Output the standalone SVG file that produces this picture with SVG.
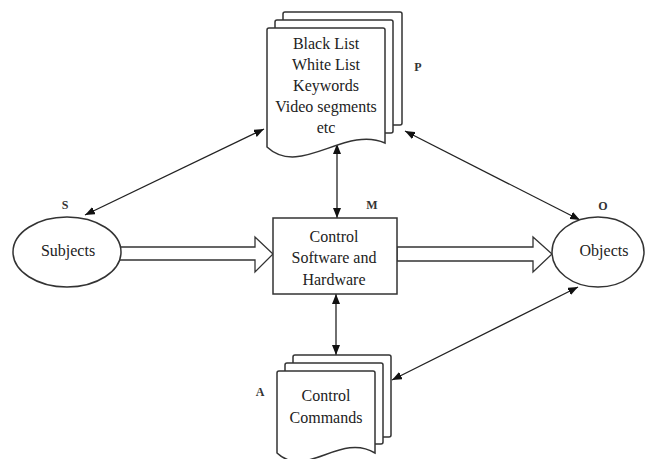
<svg xmlns="http://www.w3.org/2000/svg" width="652" height="459" viewBox="0 0 652 459">
<defs>
<marker id="ah" markerUnits="userSpaceOnUse" markerWidth="11" markerHeight="8" refX="10" refY="4" orient="auto-start-reverse">
<path d="M0,0 L10,4 L0,8 z" fill="#111"/>
</marker>
<style>
.sh{stroke:#333;stroke-width:1.5;fill:#fff}
.con{stroke:#222;stroke-width:1.3;fill:none;marker-start:url(#ah);marker-end:url(#ah)}
.hol{stroke:#333;stroke-width:1.3;fill:#fff}
.t{font-family:"Liberation Serif","Times New Roman",serif;font-size:16px;fill:#222;text-anchor:middle}
.lb{font-family:"Liberation Serif","Times New Roman",serif;font-size:12px;font-weight:bold;fill:#333;text-anchor:middle}
</style>
</defs>
<rect width="652" height="459" fill="#fff"/>
<g id="connectors">
<line class="con" x1="264" y1="129" x2="85" y2="215"/>
<line class="con" x1="405" y1="131" x2="580" y2="220"/>
<line class="con" x1="578" y1="287" x2="392" y2="380"/>
<line class="con" x1="337" y1="144" x2="337" y2="218"/>
<line class="con" x1="336" y1="294" x2="336" y2="355"/>
<polygon class="hol" points="115,247 255,247 255,237 273,254 255,272 255,260 115,260"/>
<polygon class="hol" points="397,247 533,247 533,237 552,254 533,272 533,261 397,261"/>
</g>
<g id="P">
<rect class="sh" x="283" y="12" width="119" height="113" rx="2"/>
<rect class="sh" x="275" y="20" width="118" height="113" rx="2"/>
<path class="sh" d="M267,147 L267,30 Q267,28 269,28 L383,28 Q385,28 385,30 L385,143 C345,125 300,178 267,147 Z"/>
<text class="t" x="326" y="49">Black List</text>
<text class="t" x="326" y="70">White List</text>
<text class="t" x="326" y="91">Keywords</text>
<text class="t" x="326" y="112">Video segments</text>
<text class="t" x="326" y="133">etc</text>
<text class="lb" x="418" y="71">P</text>
</g>
<g id="S">
<ellipse class="sh" cx="67" cy="252" rx="54" ry="35"/>
<text class="t" x="68" y="256">Subjects</text>
<text class="lb" x="65" y="209">S</text>
</g>
<g id="M">
<rect class="sh" x="273" y="218" width="124" height="76"/>
<text class="t" x="334" y="242">Control</text>
<text class="t" x="334" y="263">Software and</text>
<text class="t" x="334" y="285">Hardware</text>
<text class="lb" x="372" y="209">M</text>
</g>
<g id="O">
<ellipse class="sh" cx="598" cy="252" rx="46" ry="35"/>
<text class="t" x="604" y="256">Objects</text>
<text class="lb" x="603" y="210">O</text>
</g>
<g id="A">
<rect class="sh" x="293" y="355" width="98" height="82" rx="2"/>
<rect class="sh" x="285" y="363" width="98" height="81" rx="2"/>
<path class="sh" d="M277,453 L277,373 Q277,371 279,371 L373,371 Q375,371 375,373 L375,453 C340,432 306,480 277,453 Z"/>
<text class="t" x="326" y="401">Control</text>
<text class="t" x="326" y="423">Commands</text>
<text class="lb" x="260" y="396">A</text>
</g>
</svg>
